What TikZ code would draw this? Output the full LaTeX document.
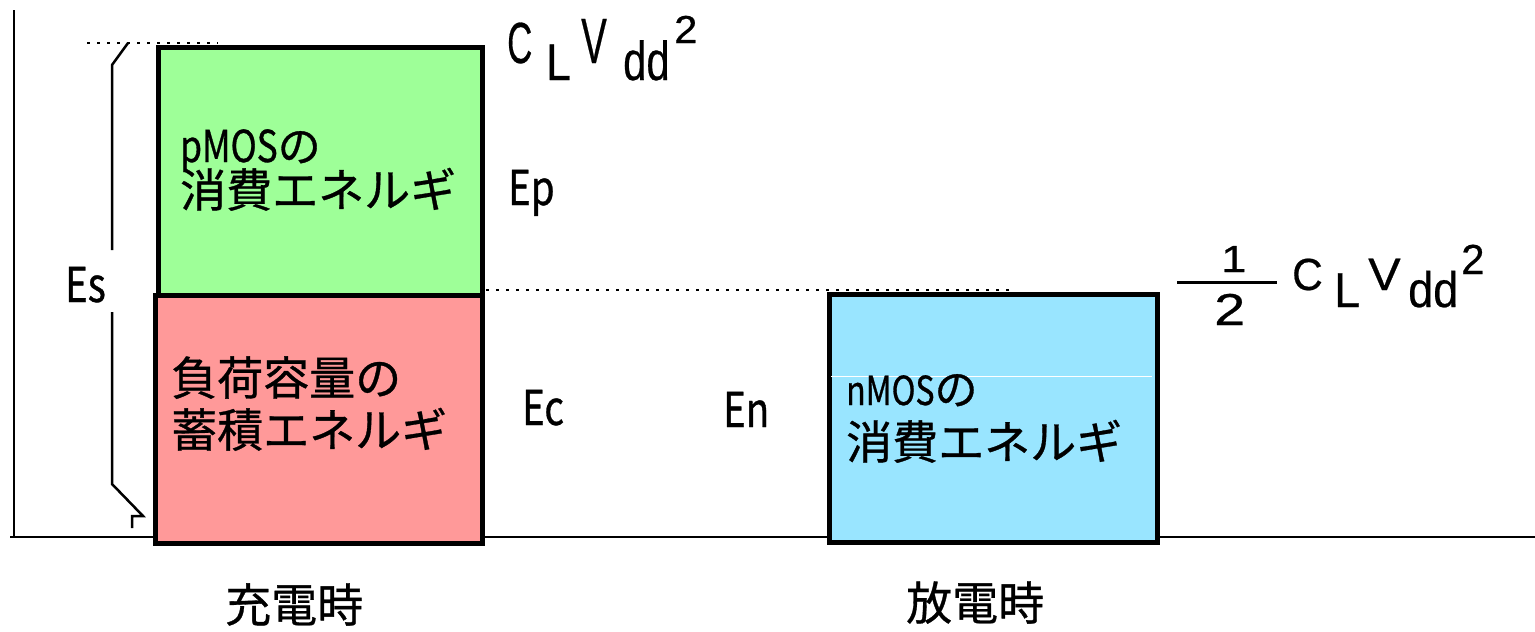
\documentclass[tikz,border=0pt]{standalone}
\usepackage{fontspec}
\usepackage{graphicx}
\setmainfont{Noto Sans CJK JP}[FakeBold=0.7]
\newfontfamily\latf{Noto Sans CJK JP}[FakeStretch=0.8,FakeBold=0.7]
\newfontfamily\arlf{Liberation Sans}[FakeBold=0.5]
\newcommand\fg[3]{\scalebox{#2}[1]{\fontsize{#1}{#1}\selectfont\arlf #3}}
\definecolor{pgreen}{RGB}{158,255,152}
\definecolor{pred}{RGB}{255,153,153}
\definecolor{pblue}{RGB}{153,229,255}
\begin{document}
\begin{tikzpicture}[x=1pt,y=-1pt,
  ebox/.style={draw=black,line width=5pt,anchor=north west,inner sep=0pt},
  axisline/.style={line width=2.5pt,draw=black},
  dotline/.style={line width=2.5pt,dash pattern=on 2.5pt off 7.5pt},
  braceline/.style={line width=2.5pt,line join=miter},
  jp/.style={anchor=base west,inner sep=0pt,font=\fontsize{46}{46}\selectfont},
  lt/.style={anchor=base west,inner sep=0pt,font=\fontsize{48}{48}\selectfont\latf},
  gl/.style={anchor=base west,inner sep=0pt}]
\useasboundingbox (0,0) rectangle (1535,632);
% axes
\coordinate (ytop) at (14,10);
\coordinate (orig) at (14,537);
\coordinate (xend) at (1535,537);
\draw[axisline] (ytop) -- (orig);
\draw[axisline] (10,537) -- (xend);
% boxes
\node[ebox,fill=pred,minimum width=327pt,minimum height=248pt] (cbox) at (152.5,293) {};
\node[ebox,fill=pgreen,minimum width=324pt,minimum height=248pt] (pbox) at (155.5,45) {};
\node[ebox,fill=pblue,minimum width=328pt,minimum height=248pt] (nbox) at (827,292) {};
\coordinate (wl) at (831,376);
\coordinate (wr) at (1152,376);
\draw[white,line width=1pt] (wl) -- (wr);
% dotted lines
\coordinate (d1a) at (87,43);
\coordinate (d1b) at (218,43);
\coordinate (d2a) at (486,290);
\coordinate (d2b) at (1013,290);
\draw[dotline] (d1a) -- (d1b);
\draw[dotline] (d2a) -- (d2b);
% brace
\coordinate (b0) at (128,43);
\coordinate (b1) at (112,65);
\coordinate (b2) at (112,250);
\coordinate (b3) at (112,312);
\coordinate (b4) at (112,484);
\coordinate (b5) at (143,516);
\coordinate (b6) at (132,516);
\coordinate (b7) at (132,528);
\draw[braceline] (b0) -- (b1) -- (b2);
\draw[braceline] (b3) -- (b4) -- (b5) -- (b6) -- (b7);
% labels
\node[lt] (es) at (65,302) {Es};
\node[lt] (ep) at (508,205) {Ep};
\node[lt] (ec) at (522,425) {Ec};
\node[lt] (en) at (723,427) {En};
\node[jp] (p1) at (180,162) {{\fontsize{44}{44}\selectfont\latf pMOS}{\fontsize{43}{43}\selectfont の}};
\node[jp] (p2) at (180,207) {消費エネルギ};
\node[jp] (c1) at (171,395) {負荷容量の};
\node[jp] (c2) at (171,447) {蓄積エネルギ};
\node[jp] (n1) at (846,405) {{\fontsize{40}{40}\selectfont\latf nMOS}{\fontsize{43}{43}\selectfont の}};
\node[jp] (n2) at (846,459) {消費エネルギ};
\node[jp] (chg) at (225,622) {充電時};
\node[jp] (dis) at (906,620) {放電時};
% top formula
\node[gl] (t1) at (507,63) {\fg{58}{0.6}{C}};
\node[gl] (t2) at (546,80) {\fg{51.7}{0.86}{L}};
\node[gl] (t3) at (581,63) {\fg{64}{0.6}{V}};
\node[gl] (t4) at (623,80) {\fg{55}{0.76}{dd}};
\node[gl] (t5) at (674,43) {\fg{39}{1.07}{2}};
% half formula
\node[gl] (h1) at (1221,272) {\fg{37.7}{1.2}{1}};
\coordinate (fl) at (1177,282);
\coordinate (fr) at (1277,282);
\draw[line width=3pt] (fl) -- (fr);
\node[gl] (h2) at (1214,325) {\fg{44.7}{1.25}{2}};
\node[gl] (h3) at (1292,290) {\fg{45}{0.94}{C}};
\node[gl] (h4) at (1334,307) {\fg{49}{0.95}{L}};
\node[gl] (h5) at (1368,290) {\fg{45.5}{1.07}{V}};
\node[gl] (h6) at (1408,307) {\fg{50}{0.9}{dd}};
\node[gl] (h7) at (1461,274) {\fg{42}{1.0}{2}};
\end{tikzpicture}
\end{document}
